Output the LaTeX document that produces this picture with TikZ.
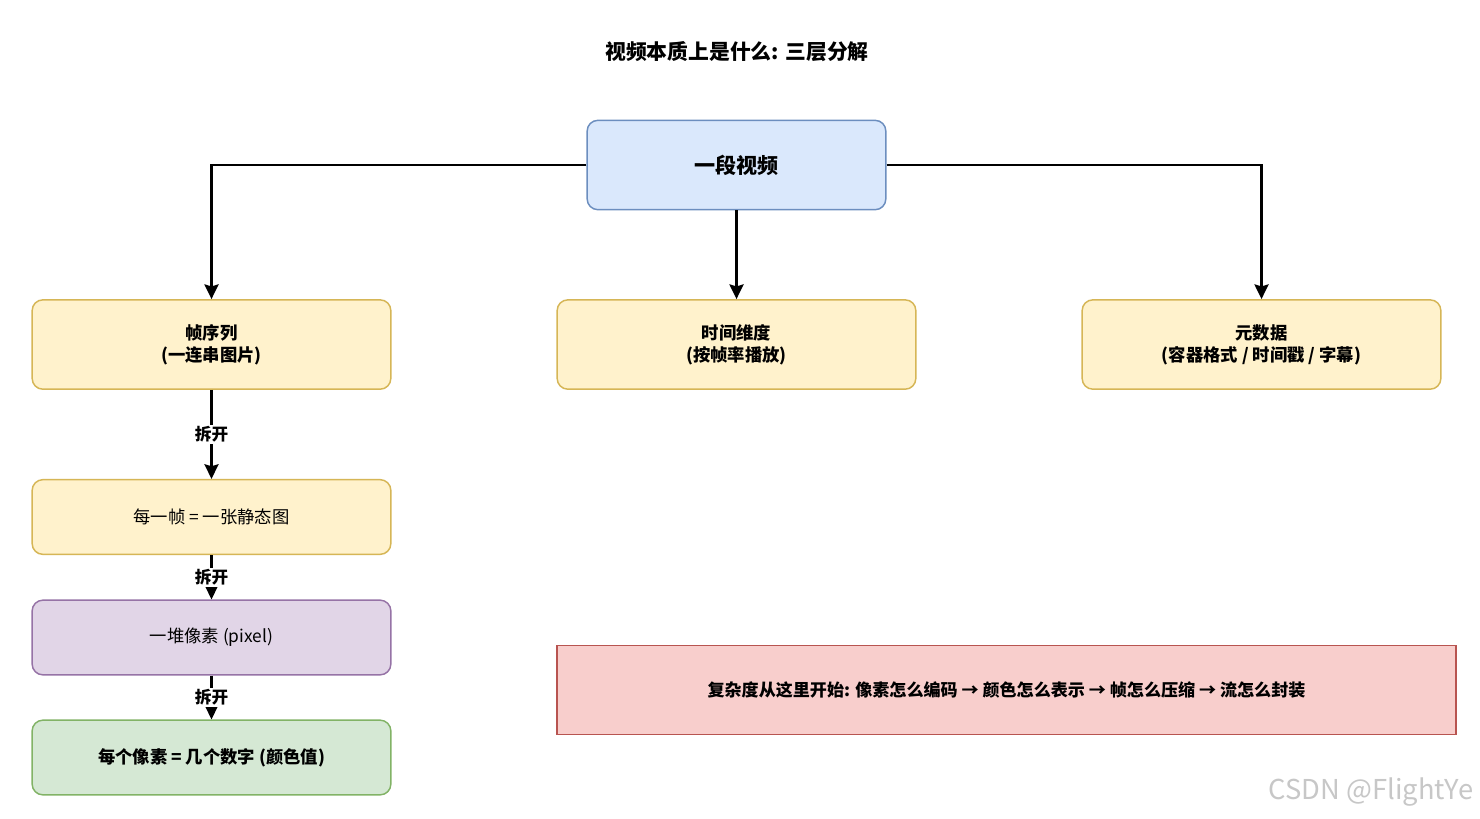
\documentclass[tikz,border=0pt]{standalone}
\usepackage{fontspec}
\setmainfont{Noto Sans CJK SC}
\usetikzlibrary{arrows.meta}
\definecolor{bluefill}{HTML}{DAE8FC}\definecolor{bluedraw}{HTML}{6C8EBF}
\definecolor{yelfill}{HTML}{FFF2CC}\definecolor{yeldraw}{HTML}{D6B656}
\definecolor{purfill}{HTML}{E1D5E7}\definecolor{purdraw}{HTML}{9673A6}
\definecolor{grnfill}{HTML}{D5E8D4}\definecolor{grndraw}{HTML}{82B366}
\definecolor{redfill}{HTML}{F8CECC}\definecolor{reddraw}{HTML}{B85450}
\tikzset{
  box/.style={rounded corners=8pt, line width=1.1pt, align=center, inner sep=0pt,
    font=\fontsize{13}{16.5}\selectfont},
  yel/.style={box, fill=yelfill, draw=yeldraw, minimum width=269pt, minimum height=67pt},
  conn/.style={line width=1.9pt, -{Stealth[length=11pt,width=10.5pt,inset=1.5pt]}},
  lbl/.style={fill=white, inner sep=1pt, font=\fontsize{12.5}{14}\selectfont\bfseries},
}
\begin{document}
\begin{tikzpicture}[x=0.75pt,y=-0.75pt]
\useasboundingbox (0,0) rectangle (1480,818);
\fill[white] (0,0) rectangle (1480,818);
\node[font=\fontsize{15.6}{18}\selectfont\bfseries] (title) at (737,52) {视频本质上是什么: 三层分解};
\node[box, fill=bluefill, draw=bluedraw, minimum width=224pt, minimum height=67pt,
  font=\fontsize{15.8}{18}\selectfont\bfseries] (video) at (736.5,165) {一段视频};
\node[yel, font=\fontsize{13}{16.5}\selectfont\bfseries] (seq) at (211.5,344.5) {帧序列\\(一连串图片)};
\node[yel, font=\fontsize{13}{16.5}\selectfont\bfseries] (time) at (736.5,344.5) {时间维度\\(按帧率播放)};
\node[yel, font=\fontsize{13}{16.5}\selectfont\bfseries] (meta) at (1261.5,344.5) {元数据\\(容器格式 / 时间戳 / 字幕)};
\node[box, fill=yelfill, draw=yeldraw, minimum width=269pt, minimum height=56pt] (frame) at (211.5,517) {每一帧 = 一张静态图};
\node[box, fill=purfill, draw=purdraw, minimum width=269pt, minimum height=56pt] (pix) at (211.5,637.5) {一堆像素 (pixel)};
\node[box, fill=grnfill, draw=grndraw, minimum width=269pt, minimum height=56pt,
  font=\fontsize{13}{16.5}\selectfont\bfseries] (num) at (211.5,757.5) {每个像素 = 几个数字 (颜色值)};
\node[box, rounded corners=0pt, fill=redfill, draw=reddraw, minimum width=674pt, minimum height=67pt,
  font=\fontsize{12.8}{16.5}\selectfont\bfseries] (note) at (1006.5,690) {复杂度从这里开始: 像素怎么编码 → 颜色怎么表示 → 帧怎么压缩 → 流怎么封装};
\draw[conn] (video.west) -| (seq.north);
\draw[conn] (video.east) -| (meta.north);
\draw[conn] (video.south) -- (time.north);
\draw[conn] (seq.south) -- node[lbl, pos=0.5] {拆开} (frame.north);
\draw[conn] (frame.south) -- node[lbl, pos=0.5] {拆开} (pix.north);
\draw[conn] (pix.south) -- node[lbl, pos=0.5] {拆开} (num.north);
\node[text=black!22, font=\fontsize{20.5}{24}\selectfont, anchor=east] (wm) at (1478,792) {CSDN @FlightYe};
\end{tikzpicture}
\end{document}
